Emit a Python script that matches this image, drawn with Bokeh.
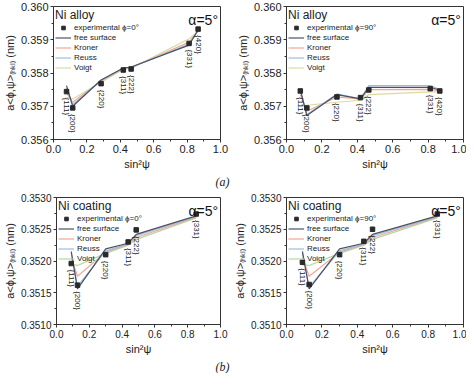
import numpy as np
from bokeh.plotting import figure
from bokeh.layouts import row, column
from bokeh.models import (Legend, LegendItem, Label, FixedTicker,
                          PrintfTickFormatter, Range1d, Title)
from bokeh.embed import file_html
from bokeh.resources import INLINE
from bokeh.core.properties import value

# ---------------- data ----------------
hkl_top = ["{111}", "{200}", "{220}", "{311}", "{222}", "{331}", "{420}"]
x_top = [0.078, 0.115, 0.285, 0.418, 0.465, 0.812, 0.866]

# Ni alloy, phi = 0
a0_exp = [0.35744, 0.35695, 0.35768, 0.35809, 0.35812, 0.35889, 0.35932]
a0_free = [0.35762, 0.35700, 0.35779, 0.35815, 0.35818, 0.35884, 0.35930]
a0_kroner = [0.35740, 0.35712, 0.35776, 0.35813, 0.35816, 0.35893, 0.35926]
a0_reuss = [0.35755, 0.35705, 0.35778, 0.35814, 0.35817, 0.35887, 0.35928]
a0_voigt = [0.35727, 0.35722, 0.35772, 0.35811, 0.35814, 0.35903, 0.35924]

# Ni alloy, phi = 90
a90_exp = [0.35746, 0.35695, 0.35728, 0.35726, 0.35749, 0.35753, 0.35746]
a90_free = [0.35750, 0.35672, 0.35735, 0.35722, 0.35757, 0.35757, 0.35748]
a90_kroner = [0.35735, 0.35685, 0.35728, 0.35721, 0.35750, 0.35751, 0.35746]
a90_reuss = [0.35748, 0.35675, 0.35737, 0.35722, 0.35762, 0.35762, 0.35750]
a90_voigt = [0.35700, 0.35703, 0.35712, 0.35718, 0.35735, 0.35743, 0.35743]

hkl_bot = ["{111}", "{200}", "{220}", "{311}", "{222}", "{331}"]
x_bot = [0.090, 0.128, 0.300, 0.437, 0.486, 0.852]

# Ni coating, phi = 0
c0_exp = [0.35196, 0.35162, 0.35210, 0.35230, 0.35249, 0.35274]
c0_free = [0.35215, 0.35156, 0.35219, 0.35228, 0.35242, 0.35271]
c0_kroner = [0.35205, 0.35176, 0.35214, 0.35226, 0.35237, 0.35269]
c0_reuss = [0.35212, 0.35160, 0.35216, 0.35227, 0.35240, 0.35270]
c0_voigt = [0.35195, 0.35193, 0.35212, 0.35225, 0.35234, 0.35268]

# Ni coating, phi = 90
c90_exp = [0.35198, 0.35163, 0.35210, 0.35231, 0.35250, 0.35274]
c90_free = [0.35215, 0.35156, 0.35219, 0.35228, 0.35242, 0.35271]
c90_kroner = [0.35205, 0.35176, 0.35214, 0.35226, 0.35237, 0.35269]
c90_reuss = [0.35212, 0.35159, 0.35216, 0.35227, 0.35240, 0.35270]
c90_voigt = [0.35194, 0.35193, 0.35212, 0.35225, 0.35234, 0.35268]

x_ticks = [0.0, 0.2, 0.4, 0.6, 0.8, 1.0]
x_minor = [0.1, 0.3, 0.5, 0.7, 0.9]
y_top_ticks = [0.356, 0.357, 0.358, 0.359, 0.360]
y_top_minor = [0.3565, 0.3575, 0.3585, 0.3595]
y_bot_ticks = [0.3510, 0.3515, 0.3520, 0.3525, 0.3530]
y_bot_minor = [0.35125, 0.35175, 0.35225, 0.35275]

FONT = "Liberation Sans"
C_FREE = "#4b5262"
C_KRONER = "#f2a597"
C_REUSS = "#9dbde0"
C_VOIGT_TOP = "#d6dc9e"
C_VOIGT_BOT = "#b3d7a2"
C_EXP = "#2a2a2a"
AX = "#333333"


def panel(title, phi, x, hkl, exp, free, kroner, reuss, voigt, c_voigt,
          yticks, yminor, yfmt, width, height, bl, br, bt, bb, tick_fs):
    p = figure(width=width, height=height,
               x_range=Range1d(0, 1), y_range=Range1d(yticks[0], yticks[-1]),
               output_backend="svg", toolbar_location=None,
               min_border_left=bl, min_border_right=br,
               min_border_top=bt, min_border_bottom=bb)
    p.xgrid.visible = False
    p.ygrid.visible = False
    p.outline_line_color = AX
    p.outline_line_width = 1
    p.background_fill_color = "white"
    p.border_fill_color = "white"

    p.xaxis.ticker = FixedTicker(ticks=x_ticks, minor_ticks=x_minor)
    p.yaxis.ticker = FixedTicker(ticks=yticks, minor_ticks=yminor)
    p.xaxis.formatter = PrintfTickFormatter(format="%.1f")
    p.yaxis.formatter = PrintfTickFormatter(format=yfmt)
    for ax in (p.xaxis[0], p.yaxis[0]):
        ax.axis_line_color = AX
        ax.major_tick_line_color = AX
        ax.minor_tick_line_color = AX
        ax.major_tick_in = 0
        ax.major_tick_out = 3
        ax.minor_tick_in = 0
        ax.minor_tick_out = 2
        ax.major_label_text_font = FONT
        ax.major_label_text_font_size = tick_fs
        ax.major_label_text_line_height = 1.0
        ax.major_label_text_color = "#222222"
        ax.major_label_standoff = 2
        ax.axis_label_text_font = FONT
        ax.axis_label_text_font_size = "11px"
        ax.axis_label_text_line_height = 1.0
        ax.axis_label_text_font_style = "normal"
        ax.axis_label_text_color = "#222222"
        ax.axis_label_standoff = 2
    p.xaxis.axis_label = "sin²ψ"
    p.yaxis.axis_label = "a<ϕ,ψ>₍ₕₖₗ₎ (nm)"

    rv = p.line(x, voigt, line_color=c_voigt, line_width=1.2)
    rk = p.line(x, kroner, line_color=C_KRONER, line_width=1.2)
    rr = p.line(x, reuss, line_color=C_REUSS, line_width=1.2)
    rf = p.line(x, free, line_color=C_FREE, line_width=1.2)
    re = p.scatter(x, exp, marker="square", size=4.5, fill_color=C_EXP,
                   line_color=C_EXP)

    p.text(x=x, y=exp, text=hkl, angle=-np.pi / 2, text_align="left",
           text_baseline="middle", y_offset=6,
           text_font=value(FONT), text_font_size="8px", text_color="#222222")

    legend = Legend(items=[
        LegendItem(label="experimental ϕ=" + phi, renderers=[re]),
        LegendItem(label="free surface", renderers=[rf]),
        LegendItem(label="Kroner", renderers=[rk]),
        LegendItem(label="Reuss", renderers=[rr]),
        LegendItem(label="Voigt", renderers=[rv]),
    ], location="top_left", title=title)
    legend.title_text_font = FONT
    legend.title_text_font_size = "12px"
    legend.title_text_font_style = "normal"
    legend.title_text_color = "#222222"
    legend.title_standoff = 1
    legend.label_text_font = FONT
    legend.label_text_font_size = "8px"
    legend.label_text_color = "#222222"
    legend.label_height = 9
    legend.glyph_height = 9
    legend.glyph_width = 16
    legend.label_standoff = 3
    legend.spacing = 1
    legend.padding = 1
    legend.margin = 1
    legend.border_line_alpha = 0
    legend.background_fill_alpha = 0
    p.add_layout(legend)

    p.add_layout(Label(x=0.985, y=yticks[-1], text="α=5°", text_align="right",
                       text_baseline="top", y_offset=-5,
                       text_font=FONT, text_font_size="14px",
                       text_color="#111111"))
    return p


def tag(p, text, off):
    t = Title(text=text, align="right", text_font="Liberation Serif",
              text_font_style="italic", text_font_size="12px",
              text_color="#222222", offset=off, standoff=0,
              text_line_height=1.0)
    p.add_layout(t, "below")


p1 = panel("Ni alloy", "0°", x_top, hkl_top, a0_exp, a0_free, a0_kroner,
           a0_reuss, a0_voigt, C_VOIGT_TOP, y_top_ticks, y_top_minor, "%.3f",
           233, 190, 47, 13, 6, 51, "11px")
p2 = panel("Ni alloy", "90°", x_top, hkl_top, a90_exp, a90_free, a90_kroner,
           a90_reuss, a90_voigt, C_VOIGT_TOP, y_top_ticks, y_top_minor, "%.3f",
           233, 190, 48, 3, 6, 51, "11px")
p3 = panel("Ni coating", "0°", x_bot, hkl_bot, c0_exp, c0_free, c0_kroner,
           c0_reuss, c0_voigt, C_VOIGT_BOT, y_bot_ticks, y_bot_minor, "%.4f",
           230, 183, 40, 10, 7, 40, "10px")
p4 = panel("Ni coating", "90°", x_bot, hkl_bot, c90_exp, c90_free, c90_kroner,
           c90_reuss, c90_voigt, C_VOIGT_BOT, y_bot_ticks, y_bot_minor, "%.4f",
           236, 183, 48, 3, 7, 40, "10px")
tag(p1, "(a)", -9)
tag(p3, "(b)", -9)

layout = column(row(p1, p2), row(p3, p4))
open("out.html", "w").write(file_html(layout, INLINE))
